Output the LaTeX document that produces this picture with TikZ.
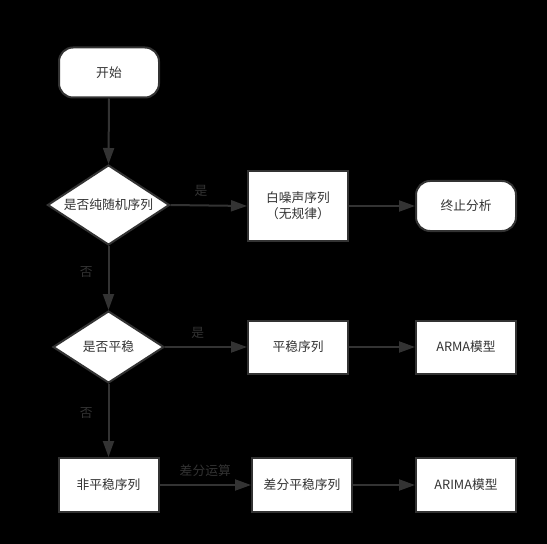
\documentclass[tikz,border=0pt]{standalone}
\usepackage{fontspec}
\setmainfont{Noto Sans CJK SC}
\usetikzlibrary{arrows.meta,shapes.geometric}
\definecolor{cLine}{HTML}{333333}
\definecolor{cBack}{HTML}{000000}

\begin{document}
\begin{tikzpicture}[
  x=1bp,y=-1bp,font=\fontsize{12.8}{16}\selectfont,
  term/.style={rectangle,rounded corners=14bp,draw=cLine,line width=2bp,fill=white,text=cLine,
              inner sep=0pt,minimum width=100bp,minimum height=50bp},
  proc/.style 2 args={rectangle,draw=cLine,line width=2bp,fill=white,text=cLine,align=center,
              inner sep=0pt,minimum width=#1,minimum height=#2},
  test/.style 2 args={diamond,aspect=1.5,draw=cLine,line width=2bp,fill=white,text=cLine,
              inner sep=0pt,minimum width=#1,minimum height=#2},
  lbl/.style={text=cLine,inner sep=1pt},
  ar/.style={-{Triangle[length=16bp,width=11bp]},line width=2bp,draw=cLine}
]
\fill[cBack] (0,0) rectangle (547,544);
\useasboundingbox (0,0) rectangle (547,544);

%======================= ROW 1 : START / RANDOM TEST =======================
\node[term] (start) at (109,72.5) {开始};
\node[test={122bp}{80bp}] (rand) at (108.5,205) {是否纯随机序列};
\node[proc={100bp}{70bp}] (noise) at (298,206) {白噪声序列\\（无规律）};
\node[term] (stop) at (466,206) {终止分析};
\draw[ar] (start.south) -- (rand.north);
\draw[ar] (rand.east) -- (noise.west) node[lbl,pos=0.4,above=7bp] {是};
\draw[ar] (noise.east) -- (stop.west);

%======================= ROW 2 : STATIONARY TEST =======================
\node[test={111bp}{72bp}] (stat) at (108.5,347) {是否平稳};
\node[proc={100bp}{53bp}] (stable) at (298,347) {平稳序列};
\node[proc={100bp}{53bp}] (arma) at (466,347) {ARMA模型};
\draw[ar] (rand.south) -- (stat.north) node[lbl,pos=0.4,left=14bp] {否};
\draw[ar] (stat.east) -- (stable.west) node[lbl,pos=0.4,above=6bp] {是};
\draw[ar] (stable.east) -- (arma.west);

%======================= ROW 3 : DIFFERENCING =======================
\node[proc={100bp}{54bp}] (nonst) at (108.5,485) {非平稳序列};
\node[proc={100bp}{54bp}] (diff) at (302,485) {差分平稳序列};
\node[proc={100bp}{54bp}] (arima) at (466,485) {ARIMA模型};
\draw[ar] (stat.south) -- (nonst.north) node[lbl,pos=0.4,left=14bp] {否};
\draw[ar] (nonst.east) -- (diff.west) node[lbl,midway,above=6bp] {差分运算};
\draw[ar] (diff.east) -- (arima.west);

\end{tikzpicture}
\end{document}
